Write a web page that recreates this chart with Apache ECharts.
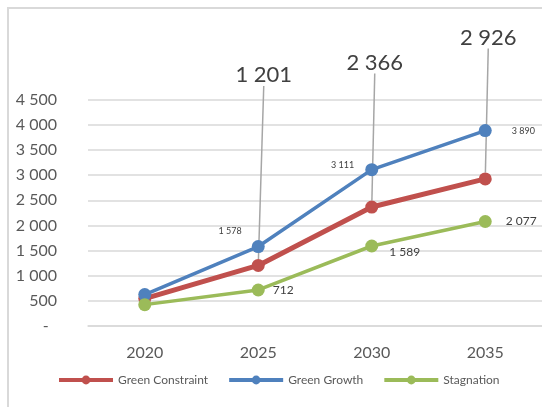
<!DOCTYPE html>
<html>
<head>
<meta charset="utf-8">
<script src="https://cdn.jsdelivr.net/npm/echarts@6/dist/echarts.min.js"></script>
<style>
  html, body { margin: 0; padding: 0; background: #ffffff; }
  #chart { width: 542px; height: 407px; }
</style>
</head>
<body>
<div id="chart"></div>
<script>
// Scenario projections by year
const years = ['2020', '2025', '2030', '2035'];
const greenConstraint = [540, 1201, 2366, 2926];
const greenGrowth = [620, 1578, 3111, 3890];
const stagnation = [420, 712, 1589, 2077];
const yTicks = [0, 500, 1000, 1500, 2000, 2500, 3000, 3500, 4000, 4500];

// Label placement (first year unlabeled).
// Callouts: [left padding so the leader sits under the point, vertical lift]
const constraintCallout = [null, [11, -160], [6, -114], [6, -111]];
const growthPlace = [null, ['left', [-5, -15]], ['left', [-6, -5]], ['right', [15, 0]]];
const stagnationPlace = [null, ['right', [3, 0]], ['right', [6, 6]], ['right', [9, 0]]];

const FONT = 'Lato, "Liberation Sans", sans-serif';
const TEXT = '#404040';
const AXIS_TEXT = '#595959';
const GRID = '#d9d9d9';

function spaced(v) {
  return String(v).replace(/\B(?=(\d{3})+(?!\d))/g, ' ');
}

function buildData(values, place, fontSize) {
  return values.map((v, i) => {
    const p = place[i];
    if (!p) return { value: v, label: { show: false } };
    return {
      value: v,
      label: { show: true, position: p[0], offset: p[1], fontSize: fontSize }
    };
  });
}

const chart = echarts.init(document.getElementById('chart'), null, { renderer: 'canvas' });

chart.setOption({
  animation: false,
  backgroundColor: '#ffffff',
  textStyle: { fontFamily: FONT },
  graphic: [{
    type: 'rect',
    shape: { x: 8, y: 8, width: 800, height: 600 },
    style: { fill: 'none', stroke: GRID, lineWidth: 2 },
    silent: true,
    z: -10
  }],
  grid: { left: 88, right: -3, top: 100, bottom: 81.3, containLabel: false },
  legend: {
    left: 57,
    top: 374,
    padding: 0,
    itemWidth: 54,
    itemHeight: 11,
    itemGap: 19,
    lineStyle: { width: 4 },
    textStyle: { fontFamily: FONT, fontSize: 12, color: AXIS_TEXT },
    data: ['Green Constraint', 'Green Growth', 'Stagnation']
  },
  xAxis: {
    type: 'category',
    data: years,
    boundaryGap: true,
    axisLine: { show: true, lineStyle: { color: GRID, width: 1.5 } },
    axisTick: { show: false },
    axisLabel: { margin: 19, fontSize: 16, color: AXIS_TEXT, fontFamily: FONT }
  },
  yAxis: {
    type: 'value',
    min: yTicks[0],
    max: yTicks[yTicks.length - 1],
    interval: yTicks[1] - yTicks[0],
    axisLine: { show: false },
    axisTick: { show: false },
    splitLine: { show: true, lineStyle: { color: GRID, width: 1.5 } },
    axisLabel: {
      margin: 31,
      fontSize: 16,
      color: AXIS_TEXT,
      fontFamily: FONT,
      formatter: v => (v === 0 ? '-  ' : spaced(v))
    }
  },
  series: [
    {
      name: 'Green Constraint',
      type: 'line',
      data: greenConstraint.map((v, i) => {
        const c = constraintCallout[i];
        return c
          ? { value: v, label: { show: true, padding: [0, 0, 8, c[0]] } }
          : { value: v, label: { show: false } };
      }),
      color: '#c0504d',
      lineStyle: { width: 5, color: '#c0504d' },
      symbol: 'circle',
      symbolSize: 13,
      itemStyle: { color: '#c0504d' },
      z: 2,
      label: {
        show: true,
        position: 'top',
        fontSize: 22,
        color: TEXT,
        fontFamily: FONT,
        formatter: p => spaced(p.value)
      },
      labelLayout: params => {
        const c = constraintCallout[params.dataIndex];
        return c ? { dy: c[1] } : {};
      },
      labelLine: {
        show: true,
        smooth: false,
        lineStyle: { color: '#a6a6a6', width: 1.5 }
      }
    },
    {
      name: 'Green Growth',
      type: 'line',
      data: buildData(greenGrowth, growthPlace, 9),
      color: '#4f81bd',
      lineStyle: { width: 3.5, color: '#4f81bd' },
      symbol: 'circle',
      symbolSize: 13,
      itemStyle: { color: '#4f81bd' },
      z: 3,
      label: {
        color: TEXT,
        fontFamily: FONT,
        formatter: p => spaced(p.value)
      }
    },
    {
      name: 'Stagnation',
      type: 'line',
      data: buildData(stagnation, stagnationPlace, 12),
      color: '#9bbb59',
      lineStyle: { width: 3.5, color: '#9bbb59' },
      symbol: 'circle',
      symbolSize: 13,
      itemStyle: { color: '#9bbb59' },
      z: 4,
      label: {
        color: TEXT,
        fontFamily: FONT,
        formatter: p => spaced(p.value)
      }
    }
  ]
});
</script>
</body>
</html>
